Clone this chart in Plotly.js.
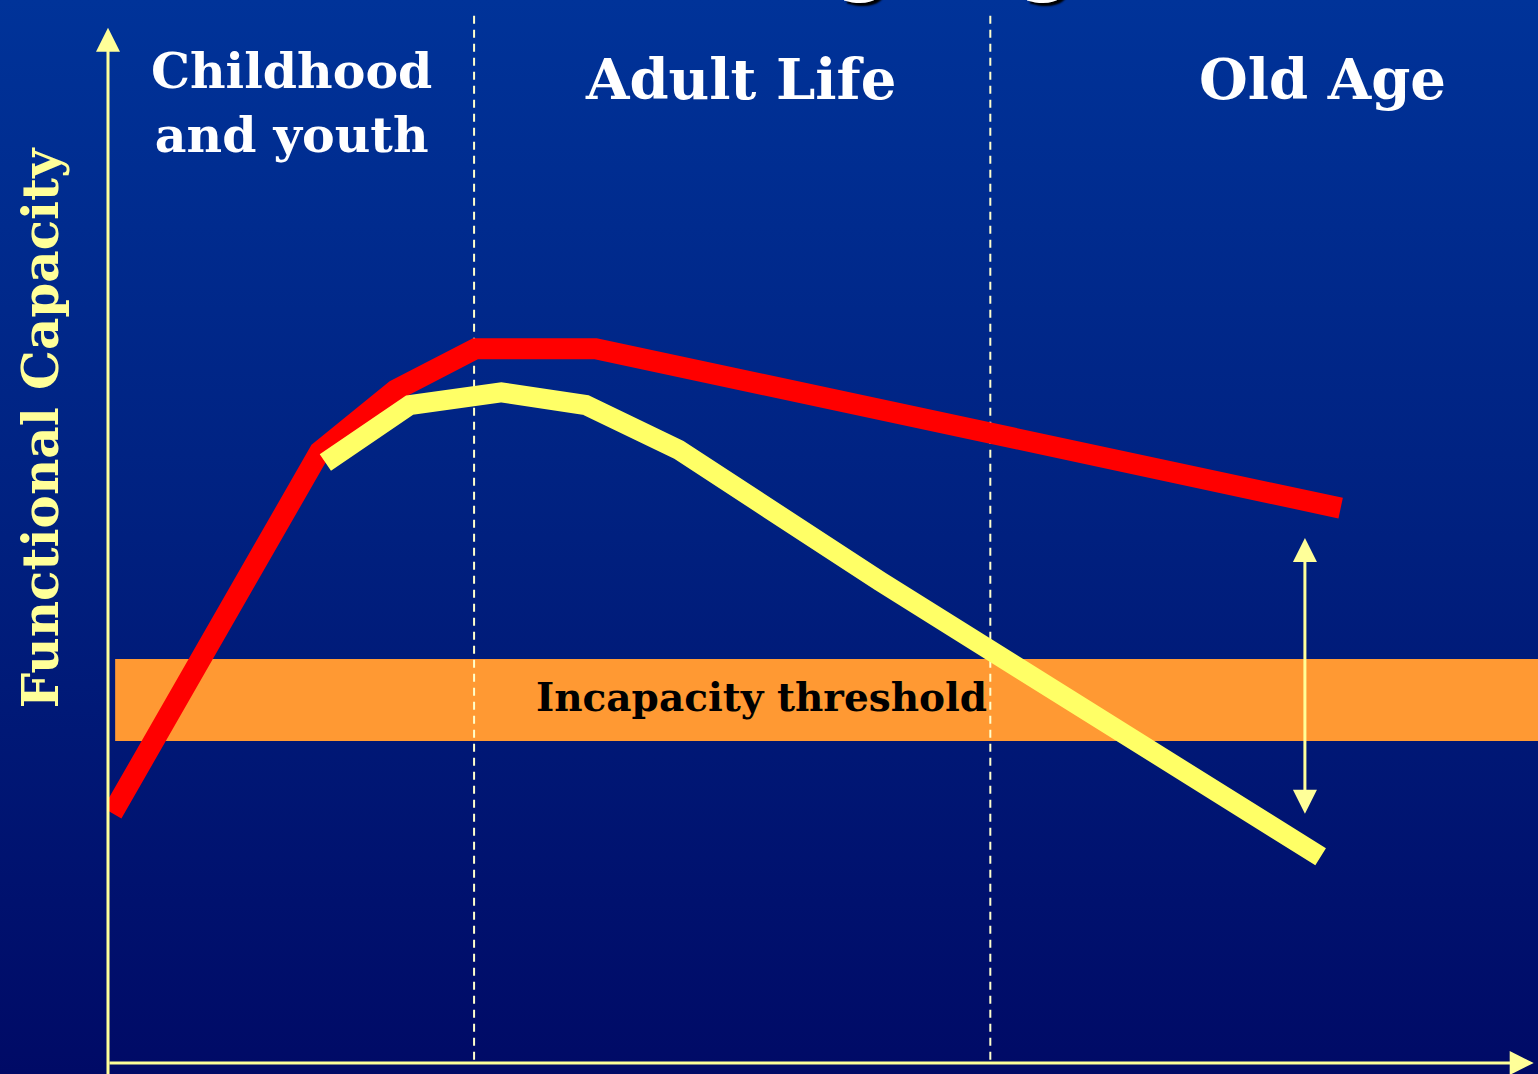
<!DOCTYPE html>
<html>
<head>
<meta charset="utf-8">
<script src="https://cdn.plot.ly/plotly-3.0.1.min.js"></script>
<style>
  html, body { margin: 0; padding: 0; }
  body { width: 1538px; height: 1074px; overflow: hidden;
         background: linear-gradient(to bottom, #003399 0%, #00207f 50%, #000a66 100%); }
  #chart { width: 1538px; height: 1074px; }
</style>
</head>
<body>
<div id="chart"></div>
<script>
// ---- data (arbitrary life-course units: x = age scale 0-100, y = capacity 0-100) ----
const ageHigh      = [0.3, 14.8, 20.1, 25.7, 34.1, 86.2];
const capacityHigh = [23.5, 57.5, 63.3, 67.2, 67.2, 52.2];

const ageLow       = [15.2, 21.1, 27.5, 33.4, 39.9, 54.0, 84.8];
const capacityLow  = [56.5, 61.9, 63.1, 61.9, 57.7, 45.3, 19.4];

const stageLabels  = ["Childhood<br>and youth", "Adult Life", "Old Age"];
const stageCenters = [12.8, 44.2, 84.9];
const stageBounds  = [25.6, 61.7];

const thresholdBand  = [30.3, 38.0];
const thresholdLabel = "Incapacity threshold";

const gapX     = 83.7;
const gapRange = [23.3, 49.4];

const yTitle = "Functional Capacity";
const topTitle = "Ageing";

// ---- styles ----
const serif = "DejaVu Serif, Liberation Serif, serif";
const axisColor = "#ffff99";

const traces = [
  { x: ageHigh, y: capacityHigh, type: "scatter", mode: "lines",
    line: { color: "#ff0000", width: 21 }, cliponaxis: false, hoverinfo: "skip" },
  { x: ageLow, y: capacityLow, type: "scatter", mode: "lines",
    line: { color: "#ffff66", width: 20 }, cliponaxis: false, hoverinfo: "skip" }
];

const shapes = [
  { type: "rect", layer: "below", xref: "x", yref: "y",
    x0: 0.5, x1: 100, y0: thresholdBand[0], y1: thresholdBand[1],
    fillcolor: "#ff9933", line: { width: 0 } }
];
stageBounds.forEach(b => shapes.push({
  type: "line", layer: "below", xref: "x", yref: "y",
  x0: b, x1: b, y0: 0.3, y1: 98.9,
  line: { color: "#ffffcc", width: 2, dash: "8px,6px" }
}));

const annotations = [];
// axes arrows
annotations.push({ xref: "x", yref: "y", axref: "x", ayref: "y",
  x: 0, y: 97.4, ax: 0, ay: -1.2, text: "", showarrow: true,
  arrowhead: 2, arrowsize: 1.6, arrowwidth: 3, arrowcolor: axisColor, standoff: 0 });
annotations.push({ xref: "x", yref: "y", axref: "x", ayref: "y",
  x: 99.7, y: 0, ax: 0, ay: 0, text: "", showarrow: true,
  arrowhead: 2, arrowsize: 1.6, arrowwidth: 3, arrowcolor: axisColor, standoff: 0 });
// gap double arrow
annotations.push({ xref: "x", yref: "y", axref: "x", ayref: "y",
  x: gapX, y: gapRange[1], ax: gapX, ay: gapRange[0], text: "", showarrow: true,
  arrowhead: 2, startarrowhead: 2, arrowside: "end+start", arrowsize: 1.6, startarrowsize: 1.6,
  arrowwidth: 3, arrowcolor: axisColor, standoff: 0, startstandoff: 0 });
// stage labels
const stageY = [90.3, 92.6, 92.6];
const stageSize = [49, 56, 56];
stageLabels.forEach((t, i) => annotations.push({
  xref: "x", yref: "y", x: stageCenters[i], y: stageY[i], text: t, showarrow: false,
  align: "center", xanchor: "center", yanchor: "middle",
  font: { family: serif, size: stageSize[i], color: "#ffffff", weight: "bold" }
}));
// threshold label
annotations.push({ xref: "x", yref: "y", x: 45.7, y: 34.4, text: thresholdLabel,
  showarrow: false, xanchor: "center", yanchor: "middle",
  font: { family: serif, size: 39, color: "#000000", weight: "bold" } });
// y title
annotations.push({ xref: "paper", yref: "y", x: -0.0476, y: 59.8, text: yTitle,
  showarrow: false, textangle: -90, xanchor: "center", yanchor: "middle",
  font: { family: serif, size: 50, color: "#ffff99", weight: "bold" } });
// cut-off slide title at top
annotations.push({ xref: "paper", yref: "paper", x: 0.572, y: 1.038, text: topTitle,
  showarrow: false, xanchor: "center", yanchor: "middle",
  font: { family: serif, size: 75, color: "#ffffff", weight: "bold",
          shadow: "3px 3px 2px #000000" } });

const layout = {
  width: 1538, height: 1074, autosize: false,
  margin: { l: 108, r: 0, t: 0, b: 11, pad: 0 },
  paper_bgcolor: "rgba(0,0,0,0)", plot_bgcolor: "rgba(0,0,0,0)",
  showlegend: false, hovermode: false,
  xaxis: { range: [0, 100], visible: false, fixedrange: true },
  yaxis: { range: [0, 100], visible: false, fixedrange: true },
  shapes: shapes, annotations: annotations
};

Plotly.newPlot("chart", traces, layout, { displayModeBar: false, staticPlot: true });
</script>
</body>
</html>
